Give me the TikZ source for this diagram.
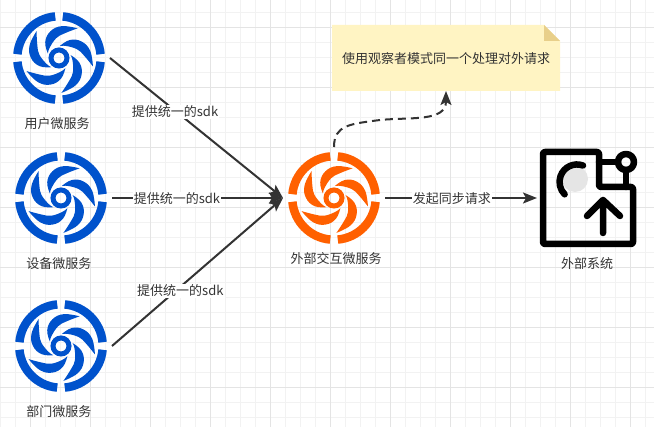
\documentclass[tikz,border=0pt]{standalone}
\usepackage{fontspec}
\setmainfont{Noto Sans CJK SC}
\usetikzlibrary{arrows.meta}
\definecolor{inkc}{HTML}{333333}
\definecolor{blueicon}{HTML}{0052CC}
\definecolor{orangeicon}{HTML}{FF6000}
\definecolor{notefill}{HTML}{FFF4C3}
\definecolor{notefold}{HTML}{E8CF8A}
\definecolor{gridmin}{HTML}{F2F2F2}
\definecolor{gridmaj}{HTML}{E4E4E4}
\tikzset{
  txt/.style={text=inkc,font=\fontsize{13pt}{15pt}\selectfont,inner sep=0pt},
  iconbox/.style={circle,minimum size=102pt,inner sep=0pt,outer sep=0pt},
  flow/.style={draw=inkc,line width=2pt,-{Stealth[length=14pt,width=11pt,inset=3pt]}},
  lab/.style={txt,fill=white,inner xsep=1pt,inner ysep=1pt},
  syspen/.style={draw=black,line width=6.5pt,line join=round,line cap=round},
  pics/swirl/.style={code={
    \foreach \a in {0,90,180,270}{
      \draw[#1,line width=8.5pt] (\a+5.2:41.75pt) arc[start angle=\a+5.2,end angle=\a+84.8,radius=41.75pt];
    }
    \draw[#1,line width=5pt] (0,0) circle[radius=8pt];
    \foreach \a in {0,72,144,216,288}{
      \begin{scope}[rotate=\a]
      \fill[#1] plot[smooth,tension=.7] coordinates {(130:35pt) (157:32pt) (180:28pt) (203:21pt) (230:12pt)}
        -- plot[smooth,tension=.7] coordinates {(230:12pt) (203:14pt) (170:20pt) (150:25pt) (130:35pt)} -- cycle;
      \end{scope}
    }
  }}
}
\begin{document}
\begin{tikzpicture}[x=1pt,y=-1pt]
\useasboundingbox (0,0) rectangle (654,427);
\fill[white] (0,0) rectangle (654,427);
\foreach \gx in {0,15,...,654}{\draw[gridmin,line width=1pt] (\gx,0) -- (\gx,427);}
\foreach \gy in {13,28,...,427}{\draw[gridmin,line width=1pt] (0,\gy) -- (654,\gy);}
\foreach \gx in {30,90,...,654}{\draw[gridmaj,line width=1pt] (\gx,0) -- (\gx,427);}
\foreach \gy in {28,88,...,427}{\draw[gridmaj,line width=1pt] (0,\gy) -- (654,\gy);}

\node[iconbox] (user) at (59,58) {};
\node[iconbox] (device) at (61,198) {};
\node[iconbox] (dept) at (61,346) {};
\node[iconbox] (hub) at (334,198) {};
\pic at (user.center) {swirl=blueicon};
\pic at (device.center) {swirl=blueicon};
\pic at (dept.center) {swirl=blueicon};
\pic at (hub.center) {swirl=orangeicon};
\node[txt] (userlab) at (57,124) {用户微服务};
\node[txt] (devicelab) at (59,264) {设备微服务};
\node[txt] (deptlab) at (59,412) {部门微服务};
\node[txt] (hublab) at (336,259) {外部交互微服务};

% note
\node[minimum width=228pt,minimum height=66pt,inner sep=0pt,outer sep=0pt] (note) at (446,58) {};
\fill[notefill] (332,25) -- (544,25) -- (560,41) -- (560,91) -- (332,91) -- cycle;
\fill[notefold] (544,25) -- (560,41) -- (544,41) -- cycle;
\node[txt] (notetext) at (446,59) {使用观察者模式同一个处理对外请求};

% external system
\node[minimum width=100pt,minimum height=100pt,inner sep=0pt,outer sep=0pt] (sys) at (587,198) {};
\fill[gray!20!white] (575,179) circle[radius=13pt];
\draw[syspen] (599,162) -- (618,162) (626,170) -- (626,187);
\draw[syspen,rounded corners=2pt] (543,152) -- (599,152) -- (599,187) -- (633,187) -- (633,244) -- (543,244) -- cycle;
\draw[syspen] (626,162) circle[radius=8pt];
\draw[syspen] (583,165.5) arc[start angle=70,end angle=225,radius=17.5pt];
\draw[syspen] (603,233) -- (603,200) (587,216) -- (603,200) -- (620,216);
\node[txt] (syslab) at (587,264) {外部系统};

% connectors
\path[flow] (user.east) -- node[lab,pos=.376,yshift=-1pt] {提供统一的sdk} (hub.west);
\path[flow] (device.east) -- node[lab,pos=.38,yshift=-1pt] {提供统一的sdk} (hub.west);
\path[flow] (dept.east) -- node[lab,pos=.4,yshift=-4pt] {提供统一的sdk} (hub.west);
\path[flow] (hub.east) -- node[lab,pos=.44,yshift=-1pt] {发起同步请求} (sys.west);
\coordinate (noteport) at (446,91);
\draw[inkc,line width=2pt,dash pattern=on 8pt off 5pt,-{Stealth[length=14pt,width=11pt,inset=3pt]}]
  (hub.north) .. controls (334,125) and (350,124) .. (380,120)
  .. controls (410,117) and (446,122) .. (noteport);
\end{tikzpicture}
\end{document}
